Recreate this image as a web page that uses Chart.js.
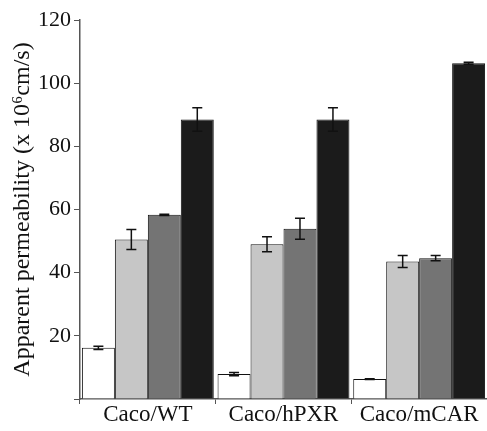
<!DOCTYPE html>
<html>
<head>
<meta charset="utf-8">
<script src="https://cdn.jsdelivr.net/npm/chart.js@4/dist/chart.umd.min.js"></script>
<style>
  html, body { margin: 0; padding: 0; background: #fff; }
  #wrap { width: 487px; height: 431px; }
</style>
</head>
<body>
<div id="wrap"><canvas id="permChart"></canvas></div>
<script>
// Données
const categories = ["Caco/WT", "Caco/hPXR", "Caco/mCAR"];
const serie1 = [16.2, 7.9, 6.3];
const serie2 = [50.5, 49.0, 43.5];
const serie3 = [58.3, 53.9, 44.6];
const serie4 = [88.5, 88.5, 106.3];
const erreur1 = [0.5, 0.5, 0.1];
const erreur2 = [3.2, 2.4, 1.9];
const erreur3 = [0.2, 3.3, 0.8];
const erreur4 = [3.7, 3.7, 0.3];
const yTicks = [0, 20, 40, 60, 80, 100, 120];

const serif = "'Liberation Serif', 'Times New Roman', serif";

// Barres d'erreur dessinées à partir de l'échelle Y
const errorBars = {
    id: "errorBars",
    afterDatasetsDraw(chart) {
        const ctx = chart.ctx;
        const y = chart.scales.y;
        ctx.save();
        ctx.strokeStyle = "#111";
        ctx.lineWidth = 1.5;
        chart.data.datasets.forEach((ds, i) => {
            const meta = chart.getDatasetMeta(i);
            meta.data.forEach((bar, j) => {
                const v = ds.data[j];
                const e = ds.errors[j];
                const top = y.getPixelForValue(v + e);
                const bot = y.getPixelForValue(v - e);
                const x = bar.x;
                ctx.beginPath();
                ctx.moveTo(x, top);
                ctx.lineTo(x, bot);
                ctx.moveTo(x - 5, top);
                ctx.lineTo(x + 5, top);
                ctx.moveTo(x - 5, bot);
                ctx.lineTo(x + 5, bot);
                ctx.stroke();
            });
        });
        ctx.restore();
    },
};

new Chart(document.getElementById("permChart"), {
    type: "bar",
    data: {
        labels: categories,
        datasets: [{
            data: serie1,
            errors: erreur1,
            backgroundColor: "#ffffff",
        }, {
            data: serie2,
            errors: erreur2,
            backgroundColor: "#c6c6c6",
        }, {
            data: serie3,
            errors: erreur3,
            backgroundColor: "#747474",
        }, {
            data: serie4,
            errors: erreur4,
            backgroundColor: "#1b1b1b",
        }],
    },
    options: {
        responsive: true,
        maintainAspectRatio: false,
        animation: false,
        layout: { padding: { top: 20, right: 0, left: 0, bottom: 0 } },
        datasets: {
            bar: {
                borderColor: "#111",
                borderWidth: 1,
                barPercentage: 1,
                categoryPercentage: 0.972,
            },
        },
        plugins: {
            legend: { display: false },
            tooltip: { enabled: false },
        },
        scales: {
            x: {
                grid: { drawOnChartArea: false, tickLength: 5, color: "#555" },
                border: { color: "#555", width: 1.5 },
                ticks: {
                    color: "#111",
                    font: { family: serif, size: 23 },
                    padding: -3,
                },
                afterFit(scale) { scale.height = 32; },
            },
            y: {
                min: 0,
                max: 120,
                afterBuildTicks(scale) {
                    scale.ticks = yTicks.map(v => ({ value: v }));
                },
                grid: { drawOnChartArea: false, tickLength: 6, color: "#555" },
                border: { color: "#555", width: 1.5 },
                ticks: {
                    color: "#111",
                    font: { family: serif, size: 22 },
                    padding: 3,
                    callback: v => (v === 0 ? "" : v),
                },
                title: {
                    display: true,
                    text: "Apparent permeability (x 10\u2076cm/s)",
                    color: "#111",
                    font: { family: serif, size: 24 },
                    padding: { top: 8, bottom: 0 },
                },
                afterFit(scale) { scale.width = 80; },
            },
        },
    },
    plugins: [errorBars],
});
</script>
</body>
</html>
